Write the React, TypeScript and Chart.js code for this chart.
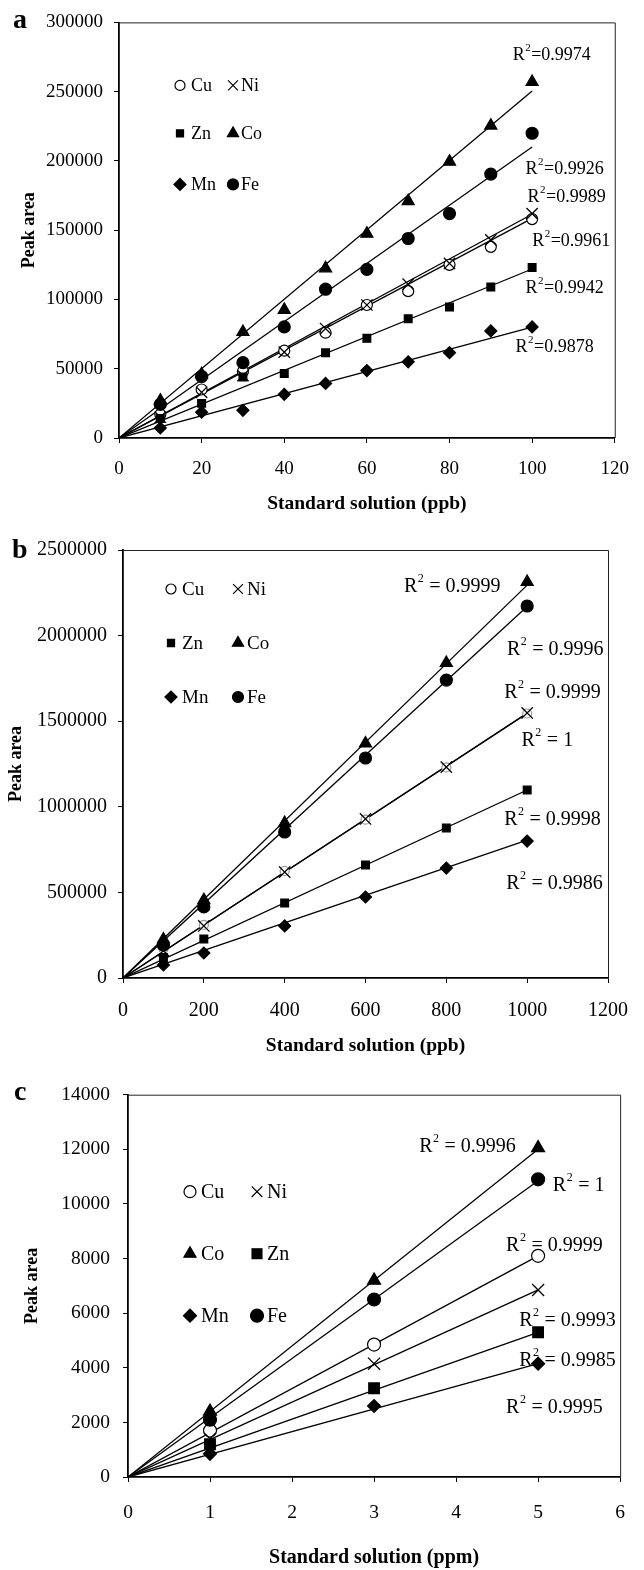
import React, { useEffect, useRef } from "react";
import { Chart, registerables } from "chart.js";

Chart.register(...registerables);

const SERIF = '"Liberation Serif", "Times New Roman", serif';

// ---------------- data ----------------
const ELEMENTS = ["Cu", "Ni", "Zn", "Co", "Mn", "Fe"];

// Panel a (ppb, 10-100)
const A_X = [10, 20, 30, 40, 50, 60, 70, 80, 90, 100];
const A_CU = [17000, 35000, 48000, 63000, 76000, 96000, 106000, 125000, 138000, 158000];
const A_NI = [15000, 33000, 45000, 62000, 79000, 96000, 111000, 126000, 143000, 162000];
const A_ZN = [14000, 25000, 44000, 46500, 61500, 72000, 86000, 94500, 109000, 123000];
const A_CO = [27000, 46000, 76500, 92500, 122500, 147500, 171000, 199500, 225500, 257000];
const A_MN = [7200, 18600, 20000, 31500, 39400, 48700, 55000, 61600, 77300, 80200];
const A_FE = [24300, 44400, 54400, 80200, 107400, 121700, 144000, 162000, 190500, 220000];
const A_FIT_X = 100;
const A_FIT_Y = [158500, 161500, 122000, 250500, 80000, 210000];
const A_R2 = ["0.9974", "0.9926", "0.9989", "0.9961", "0.9942", "0.9878"];
const A_X_TICKS = [0, 20, 40, 60, 80, 100, 120];
const A_Y_TICKS = [0, 50000, 100000, 150000, 200000, 250000, 300000];

// Panel b (ppb, 100-1000)
const B_X = [100, 200, 400, 600, 800, 1000];
const B_CU = [170000, 310000, 625000, 925000, 1230000, 1545000];
const B_NI = [160000, 304000, 619000, 929000, 1232000, 1548000];
const B_ZN = [120000, 228000, 438000, 660000, 876000, 1098000];
const B_CO = [225000, 455000, 905000, 1370000, 1840000, 2313000];
const B_MN = [76000, 146000, 304000, 473000, 642000, 800000];
const B_FE = [193000, 415000, 853000, 1285000, 1740000, 2173000];
const B_FIT_X = 1000;
const B_FIT_Y = [1545000, 1548000, 1098000, 2295000, 805000, 2170000];
const B_R2 = ["0.9999", "0.9996", "0.9999", "1", "0.9998", "0.9986"];
const B_X_TICKS = [0, 200, 400, 600, 800, 1000, 1200];
const B_Y_TICKS = [0, 500000, 1000000, 1500000, 2000000, 2500000];

// Panel c (ppm, 1-5)
const C_X = [1, 3, 5];
const C_CU = [1700, 4850, 8100];
const C_NI = [1400, 4150, 6850];
const C_ZN = [1200, 3250, 5300];
const C_CO = [2400, 7200, 12050];
const C_MN = [850, 2600, 4150];
const C_FE = [2100, 6500, 10900];
const C_FIT_X = 5;
const C_FIT_Y = [8100, 6850, 5300, 12000, 4150, 10850];
const C_R2 = ["0.9996", "1", "0.9999", "0.9993", "0.9985", "0.9995"];
const C_X_TICKS = [0, 1, 2, 3, 4, 5, 6];
const C_Y_TICKS = [0, 2000, 4000, 6000, 8000, 10000, 12000, 14000];

// ---------------- styles ----------------
const MARKER_STYLE: Record<string, string> = {
  Cu: "circle",
  Ni: "crossRot",
  Zn: "rect",
  Co: "triangle",
  Mn: "rectRot",
  Fe: "circle",
};
const MARKER_FILLED: Record<string, boolean> = {
  Cu: false,
  Ni: false,
  Zn: true,
  Co: true,
  Mn: true,
  Fe: true,
};

type Spec = {
  letter: string;
  letterX: number;
  letterY: number;
  top: number;
  height: number;
  padTop: number;
  padRight: number;
  yAxisW: number;
  xAxisH: number;
  xMax: number;
  yMax: number;
  xTicks: number[];
  yTicks: number[];
  xs: number[];
  series: number[][];
  fitX: number;
  fitY: number[];
  r2: string[];
  r2Sep: string;
  r2Pos: number[][];
  r2Size: number;
  xTitle: string;
  xTitleSize: number;
  xTitlePad: number;
  yTitlePad: number;
  tickSize: number;
  xTickPad: number;
  yTickPad: number;
  radii: Record<string, number>;
  cuColor: string;
  legendSize: number;
  legendRows: string[][];
  legendDy: number[];
  legendMarkerDx: number[];
  legendTextDx: number[];
  legendRadii: Record<string, number>;
};

const PANELS: Spec[] = [
  {
    letter: "a",
    letterX: 13,
    letterY: 28,
    top: 0,
    height: 520,
    padTop: 19,
    padRight: 20,
    yAxisW: 119,
    xAxisH: 82,
    xMax: 120,
    yMax: 300000,
    xTicks: A_X_TICKS,
    yTicks: A_Y_TICKS,
    xs: A_X,
    series: [A_CU, A_NI, A_ZN, A_CO, A_MN, A_FE],
    fitX: A_FIT_X,
    fitY: A_FIT_Y,
    r2: A_R2,
    r2Sep: "=",
    r2Pos: [
      [95.3, 276000],
      [98.4, 194000],
      [98.9, 174000],
      [100.0, 141800],
      [98.4, 108100],
      [96.0, 65200],
    ],
    r2Size: 18,
    xTitle: "Standard solution (ppb)",
    xTitleSize: 19.5,
    xTitlePad: 4,
    yTitlePad: 19,
    tickSize: 19,
    xTickPad: 15,
    yTickPad: 11,
    radii: { Cu: 5.5, Ni: 8, Zn: 5.5, Co: 7, Mn: 6, Fe: 6 },
    cuColor: "#000",
    legendSize: 18,
    legendRows: [
      ["Cu", "Ni"],
      ["Zn", "Co"],
      ["Mn", "Fe"],
    ],
    legendDy: [63, 111, 162],
    legendMarkerDx: [61, 114],
    legendTextDx: [72, 122],
    legendRadii: { Cu: 5, Ni: 7, Zn: 5, Co: 6.5, Mn: 6, Fe: 5.5 },
  },
  {
    letter: "b",
    letterX: 12,
    letterY: 33,
    top: 525,
    height: 535,
    padTop: 25,
    padRight: 22,
    yAxisW: 123,
    xAxisH: 82,
    xMax: 1200,
    yMax: 2500000,
    xTicks: B_X_TICKS,
    yTicks: B_Y_TICKS,
    xs: B_X,
    series: [B_CU, B_NI, B_ZN, B_CO, B_MN, B_FE],
    fitX: B_FIT_X,
    fitY: B_FIT_Y,
    r2: B_R2,
    r2Sep: " = ",
    r2Pos: [
      [695, 2284000],
      [950, 1916000],
      [943, 1665000],
      [986, 1384000],
      [943, 923000],
      [948, 549000],
    ],
    r2Size: 20,
    xTitle: "Standard solution (ppb)",
    xTitleSize: 19.5,
    xTitlePad: 2,
    yTitlePad: 6,
    tickSize: 20,
    xTickPad: 16,
    yTickPad: 11,
    radii: { Cu: 4.5, Ni: 8, Zn: 5.5, Co: 7, Mn: 6, Fe: 6 },
    cuColor: "#999",
    legendSize: 19,
    legendRows: [
      ["Cu", "Ni"],
      ["Zn", "Co"],
      ["Mn", "Fe"],
    ],
    legendDy: [39, 93, 147],
    legendMarkerDx: [48, 115],
    legendTextDx: [59, 124],
    legendRadii: { Cu: 5, Ni: 7, Zn: 5, Co: 6.5, Mn: 6, Fe: 5.5 },
  },
  {
    letter: "c",
    letterX: 14,
    letterY: 30,
    top: 1070,
    height: 500,
    padTop: 23,
    padRight: 19,
    yAxisW: 128,
    xAxisH: 93,
    xMax: 6,
    yMax: 14000,
    xTicks: C_X_TICKS,
    yTicks: C_Y_TICKS,
    xs: C_X,
    series: [C_CU, C_NI, C_ZN, C_CO, C_MN, C_FE],
    fitX: C_FIT_X,
    fitY: C_FIT_Y,
    r2: C_R2,
    r2Sep: " = ",
    r2Pos: [
      [3.55, 12100],
      [5.18, 10650],
      [4.61, 8460],
      [4.77, 5720],
      [4.77, 4270],
      [4.61, 2550],
    ],
    r2Size: 20,
    xTitle: "Standard solution (ppm)",
    xTitleSize: 20,
    xTitlePad: 0,
    yTitlePad: 22,
    tickSize: 19.5,
    xTickPad: 19,
    yTickPad: 13,
    radii: { Cu: 6.5, Ni: 8.5, Zn: 7.5, Co: 7.5, Mn: 6.5, Fe: 6.5 },
    cuColor: "#000",
    legendSize: 20,
    legendRows: [
      ["Cu", "Ni"],
      ["Co", "Zn"],
      ["Mn", "Fe"],
    ],
    legendDy: [97, 159, 221],
    legendMarkerDx: [62, 129],
    legendTextDx: [73, 139],
    legendRadii: { Cu: 6, Ni: 7.5, Zn: 7, Co: 7, Mn: 6.5, Fe: 6.5 },
  },
];

// ---------------- drawing helpers ----------------
function drawMarker(ctx: CanvasRenderingContext2D, style: string, x: number, y: number, r: number, filled: boolean) {
  ctx.save();
  ctx.beginPath();
  ctx.lineWidth = 1.2;
  ctx.strokeStyle = "#000";
  ctx.fillStyle = filled ? "#000" : "#fff";
  if (style === "circle") {
    ctx.arc(x, y, r, 0, Math.PI * 2);
  } else if (style === "rect") {
    const s = r * Math.SQRT1_2;
    ctx.rect(x - s, y - s, 2 * s, 2 * s);
  } else if (style === "rectRot") {
    ctx.moveTo(x - r, y);
    ctx.lineTo(x, y - r);
    ctx.lineTo(x + r, y);
    ctx.lineTo(x, y + r);
    ctx.closePath();
  } else if (style === "triangle") {
    ctx.moveTo(x, y - r);
    ctx.lineTo(x + 0.866 * r, y + 0.5 * r);
    ctx.lineTo(x - 0.866 * r, y + 0.5 * r);
    ctx.closePath();
  } else if (style === "crossRot") {
    const s = r * Math.SQRT1_2;
    ctx.moveTo(x - s, y - s);
    ctx.lineTo(x + s, y + s);
    ctx.moveTo(x + s, y - s);
    ctx.lineTo(x - s, y + s);
    ctx.stroke();
    ctx.restore();
    return;
  }
  ctx.fill();
  ctx.stroke();
  ctx.restore();
}

function makeDecor(spec: Spec) {
  return {
    id: "panelDecor",
    afterDraw(chart: any) {
      const ctx: CanvasRenderingContext2D = chart.ctx;
      const area = chart.chartArea;
      const xs = chart.scales.x;
      const ys = chart.scales.y;
      ctx.save();
      // top & right frame
      ctx.strokeStyle = "#222";
      ctx.lineWidth = 1;
      ctx.beginPath();
      ctx.moveTo(area.left, area.top + 0.5);
      ctx.lineTo(area.right + 0.5, area.top + 0.5);
      ctx.lineTo(area.right + 0.5, area.bottom);
      ctx.stroke();

      // panel letter
      ctx.fillStyle = "#000";
      ctx.font = `bold 28px ${SERIF}`;
      ctx.textBaseline = "alphabetic";
      ctx.textAlign = "left";
      ctx.fillText(spec.letter, spec.letterX, spec.letterY);

      // legend
      ctx.font = `${spec.legendSize}px ${SERIF}`;
      ctx.textBaseline = "middle";
      spec.legendRows.forEach((row, ri) => {
        const y = area.top + spec.legendDy[ri];
        row.forEach((el, ci) => {
          drawMarker(ctx, MARKER_STYLE[el], area.left + spec.legendMarkerDx[ci], y, spec.legendRadii[el], MARKER_FILLED[el]);
          ctx.fillStyle = "#000";
          ctx.font = `${spec.legendSize}px ${SERIF}`;
          ctx.fillText(el, area.left + spec.legendTextDx[ci], y + 1);
        });
      });

      // R² labels
      const sup = Math.round(spec.r2Size * 0.62);
      spec.r2.forEach((val, i) => {
        const px = xs.getPixelForValue(spec.r2Pos[i][0]);
        const py = ys.getPixelForValue(spec.r2Pos[i][1]);
        ctx.fillStyle = "#000";
        ctx.font = `${spec.r2Size}px ${SERIF}`;
        ctx.fillText("R", px, py);
        const w = ctx.measureText("R").width;
        ctx.font = `${sup}px ${SERIF}`;
        ctx.fillText("2", px + w + 0.5, py - spec.r2Size * 0.4);
        const sw = ctx.measureText("2").width;
        ctx.font = `${spec.r2Size}px ${SERIF}`;
        ctx.fillText(spec.r2Sep + val, px + w + sw + 1, py);
      });
      ctx.restore();
    },
  };
}

function buildConfig(spec: Spec): any {
  const datasets: any[] = [];
  ELEMENTS.forEach((el, i) => {
    datasets.push({
      type: "line",
      label: el + " fit",
      data: [
        { x: 0, y: 0 },
        { x: spec.fitX, y: spec.fitY[i] },
      ],
      borderColor: "#000",
      borderWidth: 1.3,
      pointRadius: 0,
      showLine: true,
      fill: false,
      tension: 0,
      order: 2,
    });
  });
  ELEMENTS.forEach((el, i) => {
    datasets.push({
      type: "scatter",
      label: el,
      data: spec.xs.map((x, j) => ({ x, y: spec.series[i][j] })),
      pointStyle: MARKER_STYLE[el],
      pointRadius: spec.radii[el],
      pointBackgroundColor: MARKER_FILLED[el] ? "#000" : "#fff",
      pointBorderColor: el === "Cu" ? spec.cuColor : "#000",
      pointBorderWidth: el === "Ni" ? 1.3 : 1.2,
      showLine: false,
      order: el === "Cu" ? 1.5 : 1,
    });
  });

  const tickFont = { family: SERIF, size: spec.tickSize };

  return {
    type: "scatter",
    data: { datasets },
    options: {
      responsive: false,
      animation: false,
      events: [],
      layout: { padding: { top: spec.padTop, right: spec.padRight, left: 0, bottom: 0 } },
      plugins: { legend: { display: false }, tooltip: { enabled: false }, title: { display: false } },
      scales: {
        x: {
          type: "linear",
          min: 0,
          max: spec.xMax,
          afterBuildTicks: (s: any) => {
            s.ticks = spec.xTicks.map((v) => ({ value: v }));
          },
          afterFit: (s: any) => {
            s.height = spec.xAxisH;
          },
          ticks: {
            font: tickFont,
            color: "#000",
            padding: spec.xTickPad,
            maxRotation: 0,
            autoSkip: false,
            callback: (v: any) => String(v),
          },
          grid: { drawOnChartArea: false, drawTicks: true, tickLength: 5, color: "#000", lineWidth: 1 },
          border: { display: true, color: "#000", width: 1.8 },
          title: {
            display: true,
            text: spec.xTitle,
            font: { family: SERIF, size: spec.xTitleSize, weight: "bold" },
            color: "#000",
            padding: { top: 0, bottom: spec.xTitlePad },
          },
        },
        y: {
          type: "linear",
          min: 0,
          max: spec.yMax,
          afterBuildTicks: (s: any) => {
            s.ticks = spec.yTicks.map((v) => ({ value: v }));
          },
          afterFit: (s: any) => {
            s.width = spec.yAxisW;
          },
          ticks: {
            font: tickFont,
            color: "#000",
            padding: spec.yTickPad,
            autoSkip: false,
            callback: (v: any) => String(v),
          },
          grid: { drawOnChartArea: false, drawTicks: true, tickLength: 5, color: "#000", lineWidth: 1 },
          border: { display: true, color: "#000", width: 1.8 },
          title: {
            display: true,
            text: "Peak area",
            font: { family: SERIF, size: 18, weight: "bold" },
            color: "#000",
            padding: { top: spec.yTitlePad, bottom: 0 },
          },
        },
      },
    },
    plugins: [makeDecor(spec)],
  };
}

function Panel({ spec }: { spec: Spec }) {
  const ref = useRef<HTMLCanvasElement | null>(null);
  useEffect(() => {
    if (!ref.current) return;
    const chart = new Chart(ref.current, buildConfig(spec));
    return () => chart.destroy();
  }, [spec]);
  return (
    <canvas
      ref={ref}
      width={644}
      height={spec.height}
      style={{ position: "absolute", left: 0, top: spec.top, width: 644, height: spec.height, display: "block" }}
    />
  );
}

export default function App() {
  return (
    <div style={{ position: "absolute", left: 0, top: 0, width: 644, height: 1570, background: "#fff", overflow: "hidden" }}>
      {PANELS.map((p) => (
        <Panel key={p.letter} spec={p} />
      ))}
    </div>
  );
}
